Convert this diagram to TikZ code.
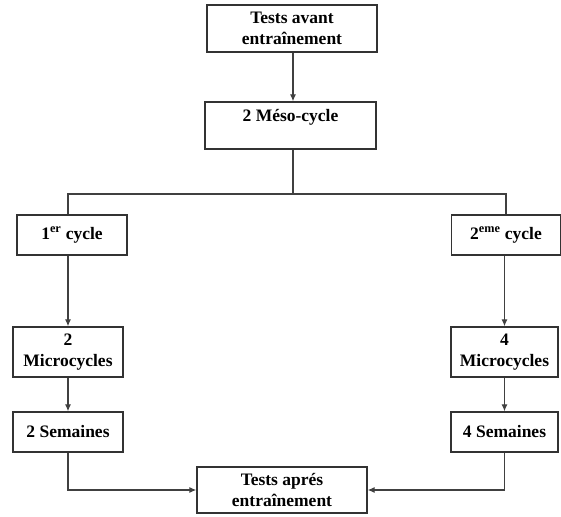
\documentclass[tikz,border=0pt]{standalone}
\usepackage{fontspec}
\setmainfont{Liberation Serif}
\usepackage{tikz}
\usetikzlibrary{arrows.meta, calc, positioning}

\begin{document}
\begin{tikzpicture}[x=1pt, y=-1pt, line width=1.2pt,
    box/.style={draw=black!80, line width=1.3pt, fill=white, inner sep=0pt,
        align=center, font=\fontsize{17.5}{21}\selectfont\bfseries},
    link/.style={draw=black!75, -{Latex[length=7pt,width=6pt]}},
    plain/.style={draw=black!75}]
    \useasboundingbox (0,0) rectangle (561,516);
    % haut
    \node[box, minimum width=170pt, minimum height=47pt] (avant) at (292,28.5) {Tests avant\\entraînement};
    \node[box, minimum width=171pt, minimum height=47pt] (meso) at (290.5,125.5) {2 Méso-cycle\\\mbox{}};
    \coordinate (split) at (293,194);
    % les deux cycles
    \node[box, minimum width=110pt, minimum height=40pt] (c1) at (72,235) {1\textsuperscript{er} cycle};
    \node[box, minimum width=109pt, minimum height=40pt] (c2) at (506,235) {2\textsuperscript{eme} cycle};
    \node[box, minimum width=110pt, minimum height=50pt] (m1) at (68,352) {2\\Microcycles};
    \node[box, minimum width=107pt, minimum height=50pt] (m2) at (504.5,352) {4\\Microcycles};
    \node[box, minimum width=110pt, minimum height=40pt] (s1) at (68,432) {2 Semaines};
    \node[box, minimum width=107pt, minimum height=40pt] (s2) at (504.5,432) {4 Semaines};
    % bas
    \node[box, minimum width=170pt, minimum height=46pt] (fin) at (282,490) {Tests aprés\\entraînement};
    % liens
    \draw[link] (avant.south -| split) -- (meso.north -| split);
    \draw[plain] (meso.south -| split) -- (split);
    \draw[plain] (m1.north |- c1.north) |- (c2.north |- split) -- (c2.north);
    \draw[link] (m1.north |- c1.south) -- (m1.north);
    \draw[link] (m2.north |- c2.south) -- (m2.north);
    \draw[link] (m1.south) -- (s1.north);
    \draw[link] (m2.south) -- (s2.north);
    \draw[link] (s1.south) |- (fin.west);
    \draw[link] (s2.south) |- (fin.east);
\end{tikzpicture}
\end{document}
